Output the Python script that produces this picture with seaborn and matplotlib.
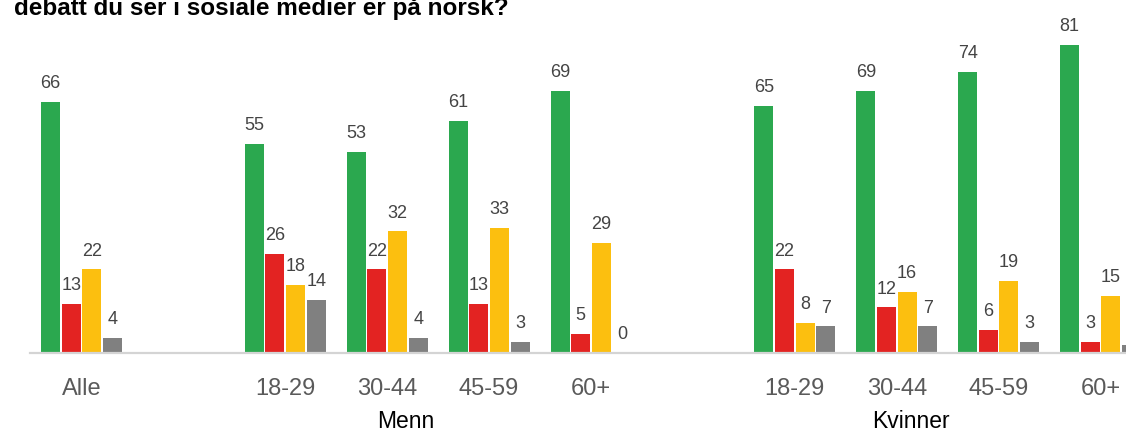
import numpy as np
import pandas as pd
import matplotlib
matplotlib.use('Agg')
import matplotlib.pyplot as plt
import matplotlib.transforms as mtransforms
import seaborn as sns

# ------------------------------------------------------------
# Data
# ------------------------------------------------------------
TITLE = 'debatt du ser i sosiale medier er på norsk?'

slots      = ['Alle', 'gap1', 'M 18-29', 'M 30-44', 'M 45-59', 'M 60+',
              'gap2', 'K 18-29', 'K 30-44', 'K 45-59', 'K 60+']
tick_text  = ['Alle', '', '18-29', '30-44', '45-59', '60+',
              '', '18-29', '30-44', '45-59', '60+']
groups     = ['Alle', 'M 18-29', 'M 30-44', 'M 45-59', 'M 60+',
              'K 18-29', 'K 30-44', 'K 45-59', 'K 60+']
svar       = ['Norsk', 'Engelsk', 'Begge deler', 'Vet ikke']

norsk      = [66, 55, 53, 61, 69, 65, 69, 74, 81]
engelsk    = [13, 26, 22, 13, 5, 22, 12, 6, 3]
begge      = [22, 18, 32, 33, 29, 8, 16, 19, 15]
vet_ikke   = [4, 14, 4, 3, 0, 7, 7, 3, 2]

group_labels = ['Menn', 'Kvinner']
group_label_x = [3.18, 8.14]

GREEN = '#2ba84f'; RED = '#e32322'; YELLOW = '#fcbf0f'; GREY = '#808080'

rows = []
for i, g in enumerate(groups):
    for s, vals in zip(svar, [norsk, engelsk, begge, vet_ikke]):
        rows.append({'gruppe': g, 'svar': s, 'andel': vals[i]})
df = pd.DataFrame(rows)

# ------------------------------------------------------------
# Plot
# ------------------------------------------------------------
sns.set_style('white')
plt.rcParams['font.family'] = ['Liberation Sans', 'DejaVu Sans']

fig = plt.figure(figsize=(11.26, 4.33), dpi=100)
ax = fig.add_axes([30 / 1126, 80 / 433, 1 - 30 / 1126, 342 / 433])

sns.barplot(data=df, x='gruppe', y='andel', hue='svar', order=slots,
            hue_order=svar, palette=[GREEN, RED, YELLOW, GREY],
            saturation=1, width=0.81, gap=0.08, errorbar=None,
            legend=False, ax=ax, linewidth=0)

for cont in ax.containers:
    ax.bar_label(cont, padding=7, fontsize=13, color='#444444', clip_on=False)

ax.set_xlim(-0.505, 10.25)
ax.set_ylim(0, 90)
ax.set_yticks([])
ax.set_ylabel('')
ax.set_xlabel('')
ax.set_xticks(range(len(slots)))
ax.set_xticklabels(tick_text, fontsize=17, color='#5a5a5a')
ax.tick_params(axis='x', length=0, pad=18)

for sp in ['top', 'right', 'left']:
    ax.spines[sp].set_visible(False)
ax.spines['bottom'].set_color('#d4d4d4')
ax.spines['bottom'].set_linewidth(1.6)

trans = mtransforms.blended_transform_factory(ax.transData, fig.transFigure)
for lab, xpos in zip(group_labels, group_label_x):
    ax.text(xpos, 1 - 428 / 433, lab, transform=trans, ha='center',
            va='baseline', fontsize=16.5, color='black', clip_on=False)

# title is cropped at the top edge, as in the source screenshot
fig.text(14 / 1126, 1 - 15 / 433, TITLE, ha='left', va='baseline',
         fontsize=17.5, fontweight='bold', color='black')

fig.savefig('out.png', dpi=100, facecolor='white')
